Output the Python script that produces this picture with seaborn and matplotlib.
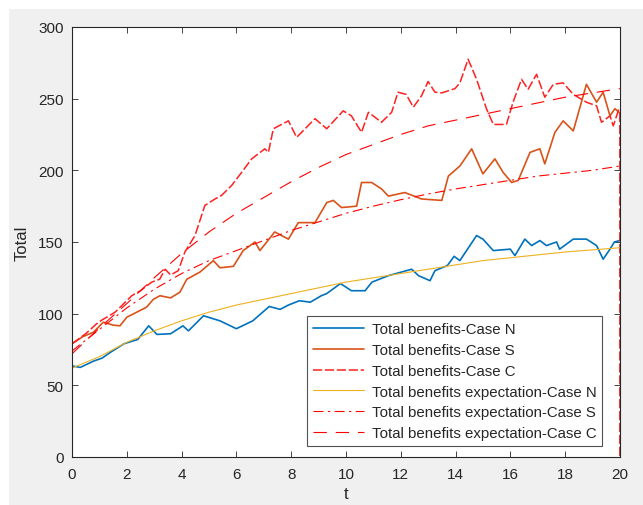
import matplotlib
matplotlib.use('Agg')
import matplotlib.pyplot as plt
from matplotlib.patches import Rectangle
import numpy as np
import pandas as pd
import seaborn as sns

# Case N (simulated path)
t_n = [0, 0.3, 0.8, 1.1, 1.4, 1.9, 2.4, 2.8, 3.1, 3.6, 4.05, 4.25, 4.8,
       5.4, 6.0, 6.6, 7.2, 7.6, 7.9, 8.3, 8.7, 9.1, 9.3, 9.8, 10.2, 10.7,
       10.95, 11.55, 12.4, 12.65, 13.07, 13.25, 13.7, 13.95, 14.16, 14.77,
       15.0, 15.38, 16.0, 16.17, 16.53, 16.78, 17.08, 17.32, 17.69, 17.8,
       18.3, 18.78, 19.15, 19.39, 19.64, 19.8, 20]
y_n = [63.5, 62.5, 67, 69, 73, 79, 82, 91.5, 85.5, 86, 91.5, 88, 98.5,
       95, 89.5, 95, 105, 103, 106, 109, 108, 112.5, 114, 121, 116, 116,
       122, 126.5, 131, 126.5, 123, 130, 133.5, 140, 137, 154.5,
       152, 144, 145, 140.5, 152, 147.5, 151, 147.5, 150, 145,
       152, 152, 147.5, 138, 145, 150, 151]

# Case S (simulated path)
t_s = [0, 0.4, 0.78, 1.14, 1.5, 1.75, 2.0, 2.36, 2.72, 2.97, 3.21, 3.6,
       3.94, 4.19, 4.67, 5.16, 5.4, 5.89, 6.25, 6.68, 6.86, 7.4, 7.9, 8.26,
       8.87, 9.3, 9.54, 9.84, 10.39, 10.57, 10.94, 11.3, 11.55, 12.15,
       12.76, 13.5, 13.74, 14.16, 14.59, 15.0, 15.44, 15.74, 16.05, 16.29,
       16.72, 17.08, 17.26, 17.63, 17.93, 18.3, 18.78, 19.15, 19.39, 19.64,
       19.82, 20]
y_s = [79, 84, 87, 94, 92, 91.5, 97.5, 101, 104.5, 110, 112.5, 111,
       115, 124, 129, 137, 132, 133, 144, 150, 144, 157, 152, 163.5,
       163.5, 177.5, 179, 174, 175, 191.5, 191.5, 187, 182, 184.5,
       180, 179, 196, 203, 215, 197.5, 208, 198.5, 191.5, 193,
       212.5, 215, 204.5, 226.5, 234.5, 227.5, 260, 247.5, 254.5, 238,
       243, 240]

# Case C (simulated path), ends with a drop to zero at t = 20
t_c = [0, 0.5, 0.96, 1.57, 2.18, 2.5, 2.91, 3.2, 3.4, 3.6, 3.88, 4.12,
       4.49, 4.85, 5.22, 5.46, 5.83, 6.19, 6.56, 7.04, 7.17, 7.35, 7.9,
       8.2, 8.87, 9.3, 9.9, 10.2, 10.57, 10.82, 11.3, 11.67, 11.9, 12.2,
       12.46, 12.76, 13.0, 13.25, 13.5, 13.98, 14.16, 14.46, 14.77, 15.13,
       15.38, 15.86, 16.1, 16.41, 16.65, 16.96, 17.26, 17.57, 17.93, 18.3,
       18.78, 19.15, 19.33, 19.64, 19.76, 19.95, 20, 20]
y_c = [79, 86, 94, 101, 112.5, 116, 122, 124, 131, 127, 130, 143,
       154.5, 175.5, 180, 182.5, 189.5, 198.5, 208, 215, 212.5, 229, 234.5,
       223, 236, 229, 241.5, 238, 226.5, 240.5, 233.5, 240.5, 254.5, 253,
       244, 252, 262, 254.5, 254, 257, 261, 277.5, 263.5, 243,
       232, 232, 247.5, 263.5, 256.5, 267, 251, 260, 261, 253,
       247.5, 245, 233.5, 238, 231, 242, 240, 0]

# Expectations
t_exp = list(range(0, 21))
exp_n = [62, 70, 80, 88, 95, 101, 106, 110, 114, 118, 122, 125, 128, 131,
         134, 137, 139, 141, 143, 144.5, 146]
exp_s = [74, 89, 104, 117, 128, 137, 144, 151, 158, 164, 170, 175, 179.5,
         183.5, 187, 190, 193, 196, 198, 200, 203]
exp_c = [72, 90, 107, 125, 142, 157, 170, 181, 192, 202, 211, 218, 225,
         231, 235, 239, 243, 247, 251, 254, 257]

labels = ['Total benefits-Case N', 'Total benefits-Case S',
          'Total benefits-Case C', 'Total benefits expectation-Case N',
          'Total benefits expectation-Case S',
          'Total benefits expectation-Case C']

sns.set_theme(style='white')
plt.rcParams['font.family'] = ['Liberation Sans', 'DejaVu Sans']

fig = plt.figure(figsize=(6.43, 5.06), dpi=100)
fig.patch.set_facecolor('white')
fig.patches.append(Rectangle((9 / 643, 0), 1, 496 / 506,
                             transform=fig.transFigure,
                             facecolor='#f0f0f0', edgecolor='none',
                             zorder=-10))
ax = fig.add_axes([0.112, 0.0949, 0.852, 0.8498])
ax.set_facecolor('white')

series = [
    (t_n, y_n, '#0072BD', '-', 1.2),
    (t_s, y_s, '#D95319', '-', 1.2),
    (t_c, y_c, '#FF2020', (0, (6, 1.8)), 1.1),
    (t_exp, exp_n, '#EDB120', '-', 0.8),
    (t_exp, exp_s, '#FF0000', (0, (9, 4, 2, 4)), 0.8),
    (t_exp, exp_c, '#FF0000', (0, (12, 8)), 0.8),
]
for (tt, yy, col, ls, lw), lab in zip(series, labels):
    df = pd.DataFrame({'t': tt, 'v': yy})
    sns.lineplot(data=df, x='t', y='v', ax=ax, color=col, linestyle=ls,
                 linewidth=lw, label=lab, estimator=None, sort=False)

ax.set_xlim(0, 20)
ax.set_ylim(0, 300)
ax.set_xticks(np.arange(0, 21, 2))
ax.set_yticks(np.arange(0, 301, 50))
ax.tick_params(direction='in', length=4, width=0.6, colors='#262626',
               labelsize=11, top=True, right=True, bottom=True, left=True,
               labeltop=False, labelright=False)
ax.tick_params(axis='x', pad=7)
ax.tick_params(axis='y', pad=6)
for sp in ax.spines.values():
    sp.set_color('#262626')
    sp.set_linewidth(0.8)
ax.set_xlabel('t', fontsize=12, color='#262626', labelpad=4)
ax.set_ylabel('Total', fontsize=12, color='#262626', labelpad=6)

leg = ax.legend(loc='lower right', bbox_to_anchor=(0.968, 0.025),
                fontsize=10.8, frameon=True, fancybox=False,
                handlelength=3.4, handletextpad=0.5, labelspacing=0.45,
                borderpad=0.4, borderaxespad=0)
leg.get_frame().set_edgecolor('#262626')
leg.get_frame().set_linewidth(0.8)
for txt in leg.get_texts():
    txt.set_color('#262626')

fig.savefig('out.png', dpi=100, facecolor=fig.get_facecolor())
